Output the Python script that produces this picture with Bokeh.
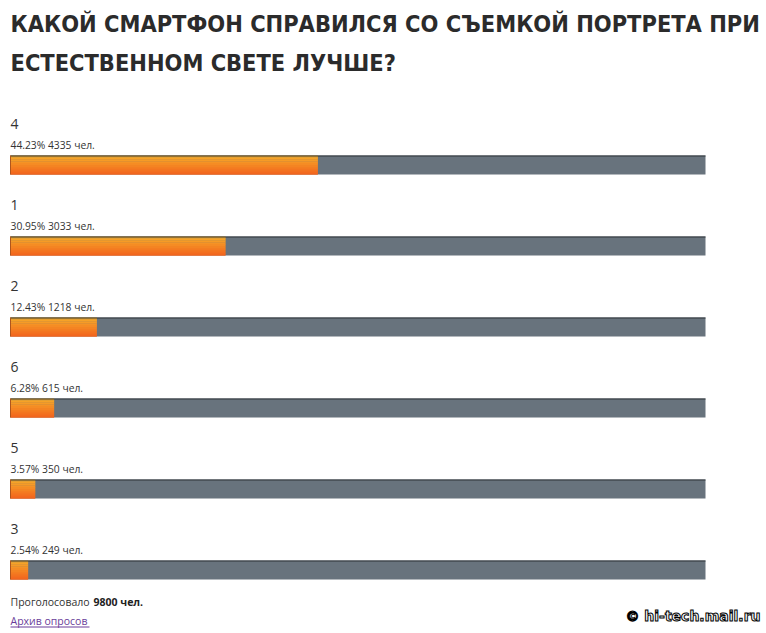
from bokeh.plotting import figure
from bokeh.models import Range1d
from bokeh.core.properties import value
from bokeh.embed import file_html
from bokeh.resources import INLINE

title_lines = ["КАКОЙ СМАРТФОН СПРАВИЛСЯ СО СЪЕМКОЙ ПОРТРЕТА ПРИ", "ЕСТЕСТВЕННОМ СВЕТЕ ЛУЧШЕ?"]
options = ["4", "1", "2", "6", "5", "3"]
percents = [44.23, 30.95, 12.43, 6.28, 3.57, 2.54]
votes = [4335, 3033, 1218, 615, 350, 249]
total_votes = 9800

W, H = 766, 633
BAR_L, BAR_R = 10, 705
scale = (BAR_R - BAR_L) / 100.0

p = figure(width=W, height=H, output_backend="svg", toolbar_location=None,
           x_range=Range1d(-BAR_L / scale, (W - BAR_L) / scale),
           y_range=Range1d(H, 0), min_border=0)
p.axis.visible = False
p.grid.visible = False
p.outline_line_color = None
p.background_fill_color = "white"
p.border_fill_color = "white"

px = lambda v: (v - BAR_L) / scale  # pixel x -> data x
bl = lambda y, fs: y - 0.37 * fs     # baseline correction

TFS = 23.4
p.text(x=[px(10)] * 2, y=[bl(32, TFS), bl(71, TFS)], text=title_lines,
       text_font=value("DejaVu Sans Condensed"), text_font_style="bold",
       text_font_size=f"{TFS}px", text_color="#2b2b2b", text_baseline="alphabetic")

ROW0, STEP, BH = 155, 81, 19
tops = [ROW0 + STEP * i for i in range(len(options))]

p.text(x=[px(10)] * len(options), y=[bl(t - 26, 14) for t in tops], text=options,
       text_font=value("Open Sans"), text_font_size="14px", text_color="#333333",
       text_baseline="alphabetic")
pct_labels = [f"{pc:.2f}% {v} чел." for pc, v in zip(percents, votes)]
p.text(x=[px(10)] * len(options), y=[bl(t - 7, 10.5) for t in tops], text=pct_labels,
       text_font=value("Open Sans"), text_font_size="10.3px", text_color="#333333",
       text_baseline="alphabetic")

p.quad(left=[0] * len(options), right=[100] * len(options), top=tops,
       bottom=[t + BH for t in tops], fill_color="#68737d", line_color=None)

c_top = (247, 170, 40)
c_bot = (242, 102, 30)
N = 10
for k in range(N):
    f = k / (N - 1)
    col = "#%02x%02x%02x" % tuple(int(round(a + (b - a) * f)) for a, b in zip(c_top, c_bot))
    y0 = [t + BH * k / N for t in tops]
    y1 = [t + BH * (k + 1) / N + 0.3 for t in tops]
    p.quad(left=[0] * len(options), right=percents, top=y0, bottom=y1,
           fill_color=col, line_color=None)

p.segment(x0=[0] * len(options), x1=[100] * len(options), y0=[t + 0.5 for t in tops],
          y1=[t + 0.5 for t in tops], line_color="#2f3438", line_width=1)
p.segment(x0=[0] * len(options), x1=[0] * len(options), y0=tops,
          y1=[t + BH for t in tops], line_color="#b0561c", line_width=1)

p.text(x=[px(10)], y=[bl(605, 10.5)], text=["Проголосовало"], text_font=value("Open Sans"),
       text_font_size="10.5px", text_color="#333333", text_baseline="alphabetic")
p.text(x=[px(93)], y=[bl(605, 10.5)], text=[f"{total_votes} чел."], text_font=value("Open Sans"),
       text_font_size="10.5px", text_font_style="bold", text_color="#222222",
       text_baseline="alphabetic")
p.text(x=[px(10)], y=[bl(624, 10.5)], text=["Архив опросов"], text_font=value("Open Sans"),
       text_font_size="10.5px", text_color="#6a3d9a", text_baseline="alphabetic")
p.segment(x0=[px(10)], x1=[px(89)], y0=[626.5], y1=[626.5], line_color="#6a3d9a", line_width=1)

p.text(x=[px(760)], y=[bl(621, 14)], text=["© hi-tech.mail.ru"], text_font=value("DejaVu Sans"),
       text_font_size="14px", text_font_style="bold", text_color="white",
       text_outline_color="black", text_align="right", text_baseline="alphabetic")

open("out.html", "w").write(file_html(p, INLINE))
